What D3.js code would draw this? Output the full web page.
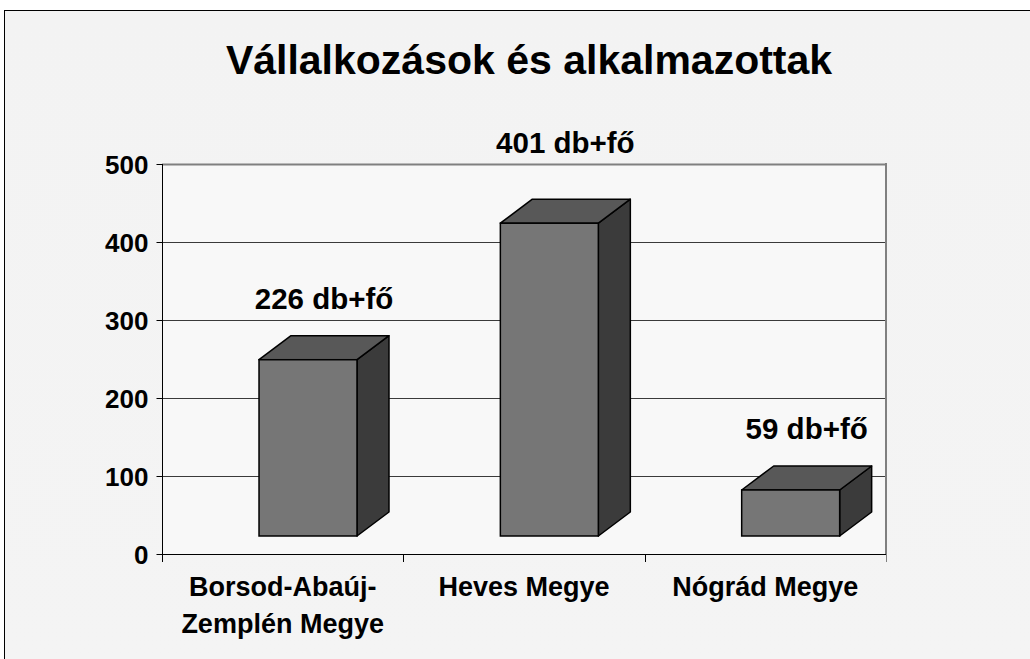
<!DOCTYPE html>
<html>
<head>
<meta charset="utf-8">
<script src="https://cdn.jsdelivr.net/npm/d3@7"></script>
<style>
  html, body { margin: 0; padding: 0; background: #ffffff; }
  svg { display: block; }
  text { font-family: "Liberation Sans", Arial, sans-serif; font-weight: bold; fill: #000; }
</style>
</head>
<body>
<svg id="chart" width="1030" height="659"></svg>
<script>
// ---- data ----
const title = "Vállalkozások és alkalmazottak";
const categories = [["Borsod-Abaúj-", "Zemplén Megye"], ["Heves Megye"], ["Nógrád Megye"]];
const values = [226, 401, 59];
const valueLabels = ["226 db+fő", "401 db+fő", "59 db+fő"];
const yTicks = [0, 100, 200, 300, 400, 500];

// ---- layout ----
const W = 1030, H = 659;
const plot = { left: 162, right: 886, top: 164, bottom: 554 };
const depthX = 32, depthY = 24, floorLift = 18;

const svg = d3.select("#chart");

const bg = svg.append("defs").append("linearGradient")
  .attr("id", "bgGrad").attr("x1", 0).attr("y1", 0).attr("x2", 0).attr("y2", 1);
bg.append("stop").attr("offset", "0%").attr("stop-color", "#f3f3f3");
bg.append("stop").attr("offset", "100%").attr("stop-color", "#f4f4f4");

svg.append("rect").attr("x", 0).attr("y", 0).attr("width", W).attr("height", H).attr("fill", "#ffffff");
svg.append("rect").attr("x", 4.5).attr("y", 10.5).attr("width", W).attr("height", H)
  .attr("fill", "url(#bgGrad)").attr("stroke", "#000").attr("stroke-width", 1);

// plot area (back wall)
svg.append("rect").attr("x", plot.left).attr("y", plot.top)
  .attr("width", plot.right - plot.left).attr("height", plot.bottom - plot.top)
  .attr("fill", "#f8f8f8");

const x = d3.scaleBand().domain(d3.range(categories.length)).range([plot.left, plot.right]).padding(0);
const y = d3.scaleLinear().domain([0, 500]).range([plot.bottom, plot.top]);
const bw = x.bandwidth();

// gridlines
svg.append("g")
  .selectAll("line").data(yTicks.filter(t => t > 0)).join("line")
  .attr("x1", plot.left).attr("x2", plot.right)
  .attr("y1", d => Math.round(y(d)) + 0.5).attr("y2", d => Math.round(y(d)) + 0.5)
  .attr("stroke", d => d === 500 ? "#808080" : "#3a3a3a")
  .attr("stroke-width", d => d === 500 ? 2 : 1);

// right wall edge
svg.append("line")
  .attr("x1", plot.right).attr("x2", plot.right)
  .attr("y1", plot.top - 1).attr("y2", plot.bottom)
  .attr("stroke", "#808080").attr("stroke-width", 2);

// y axis
const yAxis = d3.axisLeft(y).tickValues(yTicks).tickSize(6).tickPadding(8).tickFormat(d3.format("d"));
const gy = svg.append("g").attr("transform", `translate(${plot.left + 0.5},0)`).call(yAxis);
gy.select(".domain").remove();
gy.selectAll(".tick line").attr("stroke", "#000");
gy.selectAll(".tick text").attr("font-size", 26).attr("font-family", "Liberation Sans, Arial, sans-serif")
  .attr("font-weight", "bold").attr("fill", "#000").attr("dy", "0.36em");
svg.append("line").attr("x1", plot.left + 0.5).attr("x2", plot.left + 0.5)
  .attr("y1", plot.top).attr("y2", plot.bottom + 8).attr("stroke", "#000");

// x axis
svg.append("line").attr("x1", plot.left).attr("x2", plot.right)
  .attr("y1", plot.bottom + 0.5).attr("y2", plot.bottom + 0.5).attr("stroke", "#000");
const bounds = d3.range(categories.length).map(i => x(i)).concat([plot.right]);
svg.append("g").selectAll("line").data(bounds).join("line")
  .attr("x1", d => Math.round(d) + 0.5).attr("x2", d => Math.round(d) + 0.5)
  .attr("y1", plot.bottom).attr("y2", plot.bottom + 8)
  .attr("stroke", d => d === plot.right ? "#808080" : "#000");

// category labels
const cat = svg.append("g").selectAll("text").data(categories).join("text")
  .attr("text-anchor", "middle").attr("font-size", 27)
  .attr("x", (d, i) => x(i) + bw / 2).attr("y", 596);
cat.selectAll("tspan").data(d => d).join("tspan")
  .attr("x", function () { return d3.select(this.parentNode).attr("x"); })
  .attr("dy", (d, j) => j === 0 ? 0 : 37)
  .text(d => d);

// 3D bars
const barX0 = i => x(i) + bw * 0.402;
const barW = bw * 0.406;
const bars = svg.append("g").selectAll("g").data(values).join("g");
bars.each(function (v, i) {
  const g = d3.select(this);
  const x0 = barX0(i), x1 = x0 + barW;
  const yb = y(0) - floorLift, yt = y(v) - floorLift;
  g.append("path")
    .attr("d", `M${x1},${yt} L${x1 + depthX},${yt - depthY} L${x1 + depthX},${yb - depthY} L${x1},${yb} Z`)
    .attr("fill", "#3b3b3b").attr("stroke", "#000").attr("stroke-width", 1.5).attr("stroke-linejoin", "round");
  g.append("path")
    .attr("d", `M${x0},${yt} L${x0 + depthX},${yt - depthY} L${x1 + depthX},${yt - depthY} L${x1},${yt} Z`)
    .attr("fill", "#585858").attr("stroke", "#000").attr("stroke-width", 1.5).attr("stroke-linejoin", "round");
  g.append("rect").attr("x", x0).attr("y", yt).attr("width", barW).attr("height", yb - yt)
    .attr("fill", "#767676").attr("stroke", "#000").attr("stroke-width", 1.5);
});

// value labels (moved above the top edge of the back wall if they would cross it)
const labelY = v => {
  const base = y(v) - floorLift - depthY - 27;
  return (base - 30 < plot.top) ? Math.min(base, plot.top - 11) : base;
};
svg.append("g").selectAll("text").data(values).join("text")
  .attr("text-anchor", "middle").attr("font-size", 29.5)
  .attr("x", (v, i) => barX0(i) + barW / 2 + depthX / 2)
  .attr("y", v => labelY(v))
  .text((v, i) => valueLabels[i]);

// title
svg.append("text").attr("x", 529).attr("y", 74).attr("text-anchor", "middle")
  .attr("font-size", 41).text(title);
</script>
</body>
</html>
